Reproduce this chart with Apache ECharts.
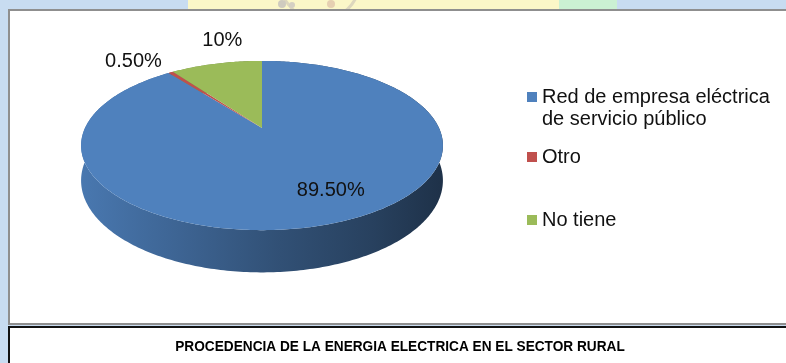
<!DOCTYPE html>
<html>
<head>
<meta charset="utf-8">
<script src="https://cdn.jsdelivr.net/npm/echarts@6/dist/echarts.min.js"></script>
<style>
  html, body { margin: 0; padding: 0; background: #c8dcf1; }
  #chart { width: 786px; height: 363px; }
</style>
</head>
<body>
<div id="chart"></div>
<script>
// ---- data ----
const categories = ['Red de empresa eléctrica\nde servicio público', 'Otro', 'No tiene'];
const shares = [89.5, 0.5, 10];
const shareLabels = ['89.50%', '0.50%', '10%'];
const caption = 'PROCEDENCIA DE LA ENERGIA ELECTRICA EN EL SECTOR RURAL';

// ---- styling / layout ----
const sliceColors = ['#4f81bd', '#c0504d', '#9bbb59'];
const FONT = '"Liberation Sans", Arial, Helvetica, sans-serif';
// tilted disc seen in perspective: centre, radii, perspective factor, wall height
const PIE = { cx: 262, cy: 128, a: 177, b: 81, k: 0.207, depth: 33.5 };
// value label placement: radius fraction of the anchor point, pixel nudge, alignment
const LABEL_POS = [
  { r: 0.5, dx: 37, dy: 20.5, align: 'center' },
  { r: 1.0, dx: -9, dy: -11, align: 'right' },
  { r: 1.0, dx: 6, dy: -23.5, align: 'center' }
];

const TAU = Math.PI * 2;

// angle measured clockwise from 12 o'clock, frac = radius fraction, drop = downward offset
function project(theta, frac, drop) {
  const u = frac * Math.sin(theta);
  const v = -frac * Math.cos(theta);
  const p = 1 / (1 - PIE.k * v);
  return [PIE.cx + PIE.a * u * p, PIE.cy + (PIE.b * v + drop) * p];
}

function shade(hex, f) {
  const n = parseInt(hex.slice(1), 16);
  const c = [(n >> 16) & 255, (n >> 8) & 255, n & 255].map(x => Math.round(x * f));
  return 'rgb(' + c.join(',') + ')';
}

// cumulative start/end of each slice, in percent
const bounds = [];
let acc = 0;
shares.forEach(s => { bounds.push([acc, acc + s]); acc += s; });

function renderSlice(params, api) {
  const idx = params.seriesIndex;
  const t0 = api.value(0) / 100 * TAU;
  const t1 = api.value(1) / 100 * TAU;
  const color = api.visual('color');
  const steps = Math.max(2, Math.ceil((t1 - t0) / 0.015));
  const rim = [], base = [];
  for (let j = 0; j <= steps; j++) {
    const t = t0 + (t1 - t0) * j / steps;
    rim.push(project(t, 1, 0));
    base.push(project(t, 1, PIE.depth));
  }
  const face = [project(0, 0, 0)].concat(rim);
  const wall = rim.concat(base.slice().reverse());
  const x0 = PIE.cx - PIE.a * 1.03, x1 = PIE.cx + PIE.a * 1.03;
  const wallFill = new echarts.graphic.LinearGradient(x0, 0, x1, 0, [
    { offset: 0, color: shade(color, 0.93) },
    { offset: 0.3, color: shade(color, 0.76) },
    { offset: 0.55, color: shade(color, 0.62) },
    { offset: 0.8, color: shade(color, 0.5) },
    { offset: 1, color: shade(color, 0.38) }
  ], true);

  const lp = LABEL_POS[idx];
  const mid = (t0 + t1) / 2;
  const anchor = project(mid, lp.r, 0);

  return {
    type: 'group',
    children: [
      { type: 'polygon', z2: 1, shape: { points: wall }, style: { fill: wallFill } },
      { type: 'polygon', z2: 10, shape: { points: face }, style: { fill: color } },
      {
        type: 'text', z2: 20,
        style: {
          text: shareLabels[idx],
          x: anchor[0] + lp.dx, y: anchor[1] + lp.dy,
          align: lp.align, verticalAlign: 'middle',
          fill: '#111', font: '20px ' + FONT
        }
      }
    ]
  };
}

const chart = echarts.init(document.getElementById('chart'), null, { renderer: 'canvas' });

chart.setOption({
  backgroundColor: '#c8dcf1',
  animation: false,
  legend: {
    orient: 'vertical',
    left: 527,
    top: 64,
    padding: 0,
    icon: 'rect',
    itemWidth: 10,
    itemHeight: 10,
    itemGap: 16,
    selectedMode: false,
    // a leading blank line keeps the swatch level with the first line of a two-line name
    formatter: name => (name.indexOf('\n') >= 0 ? '\n' + name : name),
    textStyle: { fontFamily: FONT, fontSize: 20, color: '#111', lineHeight: 22 },
    data: [
      { name: categories[0] },
      { name: categories[1] },
      { name: categories[2], textStyle: { padding: [25, 0, 25, 0] } }
    ]
  },
  graphic: [
    // strip of the page banner visible above the chart box
    { type: 'rect', silent: true, z: -10, shape: { x: 188, y: 0, width: 371, height: 12 }, style: { fill: '#fbf7c8' } },
    { type: 'rect', silent: true, z: -10, shape: { x: 559, y: 0, width: 58, height: 12 }, style: { fill: '#cbf1d3' } },
    { type: 'arc', silent: true, z: -9, shape: { cx: 320, cy: -20, r: 40, startAngle: 0.3, endAngle: 2.8 }, style: { stroke: '#ddd7bd', lineWidth: 3, fill: null } },
    { type: 'circle', silent: true, z: -9, shape: { cx: 282, cy: 4, r: 4 }, style: { fill: '#cfcbbf' } },
    { type: 'circle', silent: true, z: -9, shape: { cx: 292, cy: 5, r: 3 }, style: { fill: '#d5d0c3' } },
    { type: 'circle', silent: true, z: -9, shape: { cx: 331, cy: 4, r: 4 }, style: { fill: '#e6d0b2' } },
    // chart box
    { type: 'rect', silent: true, z: -5, shape: { x: 9, y: 10, width: 800, height: 314 }, style: { fill: '#fff', stroke: '#8f8f8f', lineWidth: 2 } },
    // caption box
    { type: 'rect', silent: true, z: -5, shape: { x: 9, y: 327, width: 800, height: 60 }, style: { fill: '#fff', stroke: '#111', lineWidth: 2 } },
    // caption
    {
      type: 'text', silent: true, z: 5, x: 400, y: 347, scaleX: 0.91,
      style: {
        text: caption, x: 0, y: 0, align: 'center', verticalAlign: 'middle',
        fill: '#000', font: 'bold 15px ' + FONT
      }
    }
  ],
  series: categories.map((name, i) => ({
    type: 'custom',
    name: name,
    coordinateSystem: 'none',
    itemStyle: { color: sliceColors[i] },
    renderItem: renderSlice,
    data: [bounds[i]]
  }))
});
</script>
</body>
</html>
